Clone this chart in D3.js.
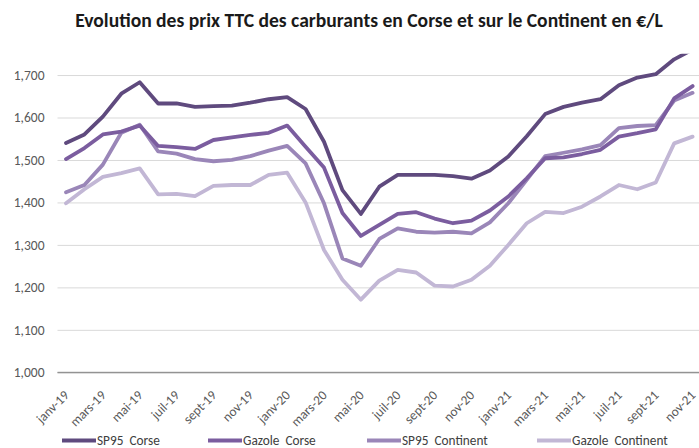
<!DOCTYPE html>
<html>
<head>
<meta charset="utf-8">
<script src="https://cdn.jsdelivr.net/npm/d3@7"></script>
<style>
  html, body { margin: 0; padding: 0; background: #fff; }
  svg { display: block; font-family: Carlito, Calibri, Lato, "Open Sans", sans-serif; }
</style>
</head>
<body>
<svg id="chart" width="699" height="448"></svg>
<script>
const months = ["janv-19","févr-19","mars-19","avr-19","mai-19","juin-19","juil-19","août-19","sept-19","oct-19","nov-19","déc-19",
  "janv-20","févr-20","mars-20","avr-20","mai-20","juin-20","juil-20","août-20","sept-20","oct-20","nov-20","déc-20",
  "janv-21","févr-21","mars-21","avr-21","mai-21","juin-21","juil-21","août-21","sept-21","oct-21","nov-21"];
const xTickLabels = ["janv-19","mars-19","mai-19","juil-19","sept-19","nov-19","janv-20","mars-20","mai-20","juil-20","sept-20","nov-20","janv-21","mars-21","mai-21","juil-21","sept-21","nov-21"];
const yTicks = [1000,1100,1200,1300,1400,1500,1600,1700];

const sp95Corse = [1540,1560,1602,1656,1683,1633,1633,1625,1627,1628,1635,1643,1648,1620,1543,1429,1373,1437,1465,1465,1465,1462,1456,1475,1508,1556,1608,1625,1635,1643,1676,1694,1702,1737,1760];
const gazoleCorse = [1502,1528,1560,1567,1581,1533,1530,1526,1547,1553,1559,1564,1581,1531,1482,1375,1321,1347,1373,1377,1362,1351,1357,1381,1414,1457,1504,1506,1514,1524,1555,1563,1572,1645,1674];
const sp95Continent = [1424,1441,1489,1564,1583,1520,1515,1502,1497,1500,1509,1522,1533,1492,1398,1268,1251,1314,1339,1331,1329,1331,1327,1353,1398,1453,1509,1517,1525,1535,1575,1580,1582,1640,1658];
const gazoleContinent = [1398,1431,1460,1469,1480,1419,1420,1415,1439,1441,1441,1465,1470,1400,1288,1218,1171,1216,1241,1235,1204,1202,1218,1251,1300,1351,1378,1375,1390,1414,1441,1431,1447,1539,1555];

const seriesNames = ["SP95  Corse","Gazole  Corse","SP95  Continent","Gazole  Continent"];
const seriesColors = ["#5f4a7e","#7b5d9f","#9a86b8","#c2b7d5"];
const seriesData = [sp95Corse, gazoleCorse, sp95Continent, gazoleContinent];

const svg = d3.select("#chart");
const plot = {left: 57.5, right: 701, top: 53.8, bottom: 372.3};

const x = d3.scalePoint().domain(months).range([66, 692.6]);
const y = d3.scaleLinear().domain([1000, 1750]).range([plot.bottom, plot.top]);

// Title
const title = svg.append("text")
  .attr("x", 369).attr("y", 27)
  .attr("text-anchor", "middle")
  .attr("font-weight", "bold")
  .attr("font-size", 17)
  .attr("fill", "#1a1a1a")
  .text("Evolution des prix TTC des carburants en Corse et sur le Continent en €/L");
{
  const target = 588;
  const w = title.node().getComputedTextLength();
  title.attr("font-size", 17 * target / w);
}

// Y axis with gridlines
const yAxis = svg.append("g")
  .attr("transform", `translate(${plot.left},0)`)
  .call(d3.axisLeft(y).tickValues(yTicks).tickSize(-(plot.right - plot.left)).tickPadding(13).tickFormat(d3.format(",")));
yAxis.select(".domain").remove();
yAxis.selectAll(".tick line").attr("stroke", "#d9d9d9").attr("stroke-width", 1);
yAxis.selectAll(".tick text").attr("fill", "#595959").attr("font-size", 13.5).style("font-family", "Carlito, Calibri, Lato, sans-serif");
yAxis.selectAll(".tick").filter(d => d === 1000).select("line").attr("stroke", "#8c8c8c");

// X axis
const xAxis = svg.append("g")
  .attr("transform", `translate(0,${plot.bottom})`)
  .call(d3.axisBottom(x).tickValues(xTickLabels).tickSize(0));
xAxis.select(".domain").attr("stroke", "#8c8c8c").attr("d", `M${plot.left},0H${plot.right}`);
xAxis.selectAll(".tick text")
  .attr("fill", "#595959").attr("font-size", 13.3)
  .style("font-family", "Carlito, Calibri, Lato, sans-serif")
  .attr("text-anchor", "end")
  .attr("dy", "0.35em")
  .attr("transform", "translate(0,20.5) rotate(-45)")
  .attr("x", 0).attr("y", 0);

// Clip
svg.append("clipPath").attr("id", "clip")
  .append("rect").attr("x", plot.left).attr("y", plot.top)
  .attr("width", plot.right - plot.left).attr("height", plot.bottom - plot.top);

const line = d3.line().x((d, i) => x(months[i])).y(d => y(d));
const g = svg.append("g").attr("clip-path", "url(#clip)");
for (let k = seriesData.length - 1; k >= 0; k--) {
  g.append("path")
    .datum(seriesData[k])
    .attr("fill", "none")
    .attr("stroke", seriesColors[k])
    .attr("stroke-width", 3.8)
    .attr("stroke-linejoin", "round")
    .attr("stroke-linecap", "round")
    .attr("d", line);
}

// Legend
const legendX = [62, 208, 367, 537];
const legend = svg.append("g");
seriesNames.forEach((name, k) => {
  legend.append("line")
    .attr("x1", legendX[k]).attr("x2", legendX[k] + 34)
    .attr("y1", 440.5).attr("y2", 440.5)
    .attr("stroke", seriesColors[k]).attr("stroke-width", 3.8);
  legend.append("text")
    .attr("x", legendX[k] + 35).attr("y", 440.5)
    .attr("dy", "0.35em")
    .attr("font-size", 13.3)
    .attr("fill", "#404040")
    .attr("xml:space", "preserve")
    .style("white-space", "pre")
    .text(name);
});
</script>
</body>
</html>
